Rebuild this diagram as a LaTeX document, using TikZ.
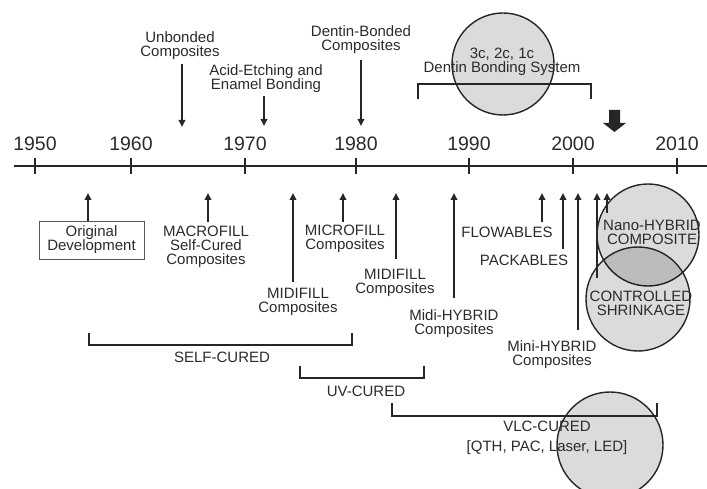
\documentclass[tikz,border=0pt]{standalone}
\usepackage{fontspec}
\setmainfont{Liberation Sans}
\usetikzlibrary{arrows.meta}
\definecolor{ink}{HTML}{2B2B2B}
\definecolor{lineink}{HTML}{262626}
\tikzset{
  lbl/.style={align=center, inner sep=0pt, text=ink, font=\fontsize{15}{14}\selectfont},
  yr/.style={inner sep=0pt, text=ink, font=\fontsize{19.5}{20}\selectfont},
  arr/.style={draw=lineink, line width=1.8pt, -{Triangle[width=6.5pt,length=7pt]}},
  brk/.style={draw=lineink, line width=1.8pt},
  blob/.style={circle, draw=lineink, line width=1.4pt, fill=black, fill opacity=0.14, text opacity=1, inner sep=0pt},
  boxed/.style={lbl, draw=ink!80, line width=0.9pt, minimum width=105pt, minimum height=38pt},
}
\begin{document}
\begin{tikzpicture}[x=1pt,y=-1pt]
\useasboundingbox (0,0) rectangle (707,489);
% circles (background)
\node[blob, minimum size=102pt] (c1) at (503,64) {};
\node[blob, minimum size=102pt] (c2) at (648,235) {};
\node[blob, minimum size=104pt] (c3) at (638,299) {};
\node[blob, minimum size=106pt] (c4) at (610,445) {};
% axis
\coordinate (axL) at (14,166);
\coordinate (axR) at (707,166);
\draw[lineink, line width=2.6pt] (axL) -- (axR);
\foreach \x/\y in {35/1950,131/1960,245/1970,356/1980,469/1990,573/2000,677/2010}{
  \coordinate (t\y a) at (\x,158);
  \coordinate (t\y b) at (\x,174);
  \draw[lineink, line width=2.4pt] (t\y a) -- (t\y b);
  \node[yr] (y\y) at (\x,144) {\y};
}
% top labels
\node[lbl] (unb) at (180,46) {Unbonded\\Composites};
\coordinate (unbS) at (182,64); \coordinate (unbE) at (182,127);
\draw[arr] (unbS) -- (unbE);
\node[lbl] (acid) at (266,79) {Acid-Etching and\\Enamel Bonding};
\coordinate (acidS) at (264,96); \coordinate (acidE) at (264,126);
\draw[arr] (acidS) -- (acidE);
\node[lbl] (dent) at (361,40) {Dentin-Bonded\\Composites};
\coordinate (dentS) at (361,60); \coordinate (dentE) at (361,126);
\draw[arr] (dentS) -- (dentE);
\node[lbl] (dbs) at (502,62) {3c, 2c, 1c\\Dentin Bonding System};
\coordinate (dbA) at (418,99); \coordinate (dbB) at (418,84);
\coordinate (dbC) at (591,84); \coordinate (dbD) at (591,99);
\draw[brk] (dbA) -- (dbB) -- (dbC) -- (dbD);
% thick arrow
\fill[black!85] (609,110) -- (620,110) -- (620,123) -- (626,123) -- (614.5,132) -- (603,123) -- (609,123) -- cycle;
% bottom labels
\node[boxed] (orig) at (91.5,240) {Original\\Development};
\coordinate (origS) at (88,221); \coordinate (origE) at (88,193);
\draw[arr] (origS) -- (origE);
\node[lbl] (macro) at (206,247) {MACROFILL\\Self-Cured\\Composites};
\coordinate (macroS) at (208,222); \coordinate (macroE) at (208,193);
\draw[arr] (macroS) -- (macroE);
\node[lbl] (midiA) at (298,302) {MIDIFILL\\Composites};
\coordinate (midiAS) at (293,282); \coordinate (midiAE) at (293,193);
\draw[arr] (midiAS) -- (midiAE);
\node[lbl] (micro) at (345,239) {MICROFILL\\Composites};
\coordinate (microS) at (343,222); \coordinate (microE) at (343,193);
\draw[arr] (microS) -- (microE);
\node[lbl] (midiB) at (395,283) {MIDIFILL\\Composites};
\coordinate (midiBS) at (396,259); \coordinate (midiBE) at (396,193);
\draw[arr] (midiBS) -- (midiBE);
\node[lbl] (midih) at (454,324) {Midi-HYBRID\\Composites};
\coordinate (midihS) at (454,298); \coordinate (midihE) at (454,193);
\draw[arr] (midihS) -- (midihE);
\node[lbl] (flow) at (507,232) {FLOWABLES};
\coordinate (flowS) at (542,222); \coordinate (flowE) at (542,193);
\draw[arr] (flowS) -- (flowE);
\node[lbl] (pack) at (524,260) {PACKABLES};
\coordinate (packS) at (563,249); \coordinate (packE) at (563,193);
\draw[arr] (packS) -- (packE);
\node[lbl] (minih) at (552,355) {Mini-HYBRID\\Composites};
\coordinate (minihS) at (578,330); \coordinate (minihE) at (578,193);
\draw[arr] (minihS) -- (minihE);
\coordinate (ctrlS) at (597,278); \coordinate (ctrlE) at (597,193);
\draw[arr] (ctrlS) -- (ctrlE);
\coordinate (nanoS) at (607,213); \coordinate (nanoE) at (607,193);
\draw[arr] (nanoS) -- (nanoE);
\node[lbl] (nano) at (652,232) {Nano-HYBRID\\COMPOSITE};
\node[lbl] (ctrl) at (641,303) {CONTROLLED\\SHRINKAGE};
% curing brackets
\coordinate (s1) at (89,333); \coordinate (s2) at (89,345);
\coordinate (s3) at (352,345); \coordinate (s4) at (352,333);
\draw[brk] (s1) -- (s2) -- (s3) -- (s4);
\node[lbl] (self) at (222,357) {SELF-CURED};
\coordinate (u1) at (300,366); \coordinate (u2) at (300,378);
\coordinate (u3) at (424,378); \coordinate (u4) at (424,366);
\draw[brk] (u1) -- (u2) -- (u3) -- (u4);
\node[lbl] (uv) at (366,391) {UV-CURED};
\coordinate (v1) at (392,403); \coordinate (v2) at (392,416);
\coordinate (v3) at (657,416); \coordinate (v4) at (657,403);
\draw[brk] (v1) -- (v2) -- (v3) -- (v4);
\node[lbl, font=\fontsize{15}{20}\selectfont] (vlc) at (547,438) {VLC-CURED\\{[QTH, PAC, Laser, LED]}};
\end{tikzpicture}
\end{document}
